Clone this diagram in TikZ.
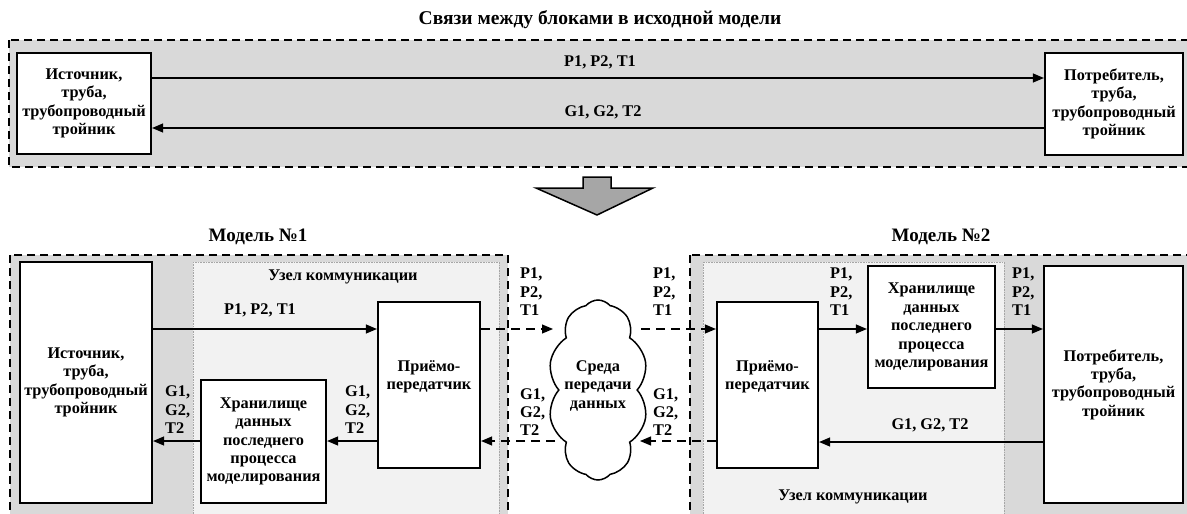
\documentclass[tikz,border=0pt]{standalone}
\usepackage{fontspec}
\setmainfont{Liberation Serif}
\usetikzlibrary{shapes.symbols,arrows.meta}
\definecolor{panelgray}{HTML}{D9D9D9}
\definecolor{nodegray}{HTML}{F2F2F2}
\definecolor{biggray}{HTML}{A6A6A6}
\begin{document}
\begin{tikzpicture}[x=1pt,y=-1pt,
  font=\bfseries\fontsize{16.3}{18.4}\selectfont,
  blk/.style={draw, line width=2.2pt, fill=white, align=center, inner sep=0pt},
  conn/.style={line width=1.2pt, -{Triangle[length=11pt,width=9pt]}},
  dconn/.style={conn, dash pattern=on 9pt off 6pt},
  panel/.style={draw, line width=1.3pt, dash pattern=on 8pt off 5pt, fill=panelgray},
  commnode/.style={draw=gray!70, line width=0.6pt, densely dotted, fill=nodegray},
  lbl/.style={align=left, inner sep=0pt},
  txt/.style={align=center, inner sep=0pt},
  ttl/.style={inner sep=0pt, font=\bfseries\fontsize{19}{22}\selectfont}]
\useasboundingbox (0,0) rectangle (1187,514);

% ---- top panel
\node[inner sep=0pt, font=\bfseries\fontsize{19.5}{22}\selectfont] (toptitle) at (600,20) {Связи между блоками в исходной модели};
\path[panel] (9,40) rectangle (1200,167);
\node[blk, minimum width=134pt, minimum height=101pt] (TL) at (84,103.5) {Источник,\\труба,\\трубопроводный\\тройник};
\node[blk, minimum width=138pt, minimum height=102pt] (TR) at (1114,104) {Потребитель,\\труба,\\трубопроводный\\тройник};
\draw[conn] (TL.east |- 0,78) -- (TR.west |- 0,78);
\draw[conn] (TR.west |- 0,128) -- (TL.east |- 0,128);
\node[inner sep=0pt] (tl1) at (600,62) {P1, P2, T1};
\node[inner sep=0pt] (tl2) at (603,112) {G1, G2, T2};

% ---- big arrow
\draw[line width=1.5pt, fill=biggray, line join=miter] (583,177) -- (611,177) -- (611,188) -- (653,188) -- (597,215) -- (536,188) -- (583,188) -- cycle;

% ---- model 1
\node[ttl] (m1) at (258,237) {Модель №1};
\path[panel] (10,255) rectangle (508,530);
\path[commnode] (193,262) rectangle (499,530);
\node[inner sep=0pt] (u1) at (343,277) {Узел коммуникации};
\node[blk, minimum width=132pt, minimum height=241pt] (BL) at (86,382.5) {Источник,\\труба,\\трубопроводный\\тройник};
\node[blk, minimum width=102pt, minimum height=166pt] (Ltr) at (429,385) {};
\node[txt] (Ltrt) at (429,377) {Приёмо-\\передатчик};
\node[blk, minimum width=125pt, minimum height=123pt] (Lst) at (263.5,441.5) {Хранилище\\данных\\последнего\\процесса\\моделирования};
\draw[conn] (BL.east |- 0,329) -- (Ltr.west |- 0,329);
\draw[conn] (Ltr.west |- 0,441) -- (Lst.east |- 0,441);
\draw[conn] (Lst.west |- 0,441) -- (BL.east |- 0,441);
\node[inner sep=0pt] (l1) at (260,310) {P1, P2, T1};
\node[lbl, anchor=west] (l2) at (345,410) {G1,\\G2,\\T2};
\node[lbl, anchor=west] (l3) at (165,410) {G1,\\G2,\\T2};

% ---- model 2
\node[ttl] (m2) at (941,237) {Модель №2};
\path[panel] (690,255) rectangle (1200,530);
\path[commnode] (703,262) rectangle (1004,530);
\node[inner sep=0pt] (u2) at (853,497) {Узел коммуникации};
\node[blk, minimum width=101pt, minimum height=166pt] (Rtr) at (767.5,385) {};
\node[txt] (Rtrt) at (767.5,377) {Приёмо-\\передатчик};
\node[blk, minimum width=127pt, minimum height=122pt] (Rst) at (931.5,327) {Хранилище\\данных\\последнего\\процесса\\моделирования};
\node[blk, minimum width=139pt, minimum height=237pt] (BR) at (1113.5,384.5) {Потребитель,\\труба,\\трубопроводный\\тройник};
\draw[conn] (Rtr.east |- 0,329) -- (Rst.west |- 0,329);
\draw[conn] (Rst.east |- 0,329) -- (BR.west |- 0,329);
\draw[conn] (BR.west |- 0,442) -- (Rtr.east |- 0,442);
\node[lbl, anchor=west] (r1) at (830,292) {P1,\\P2,\\T1};
\node[lbl, anchor=west] (r2) at (1012,292) {P1,\\P2,\\T1};
\node[inner sep=0pt] (r3) at (930,425) {G1, G2, T2};

% ---- cloud
\node[cloud, draw, line width=1.5pt, fill=white, cloud puffs=10, cloud puff arc=100, cloud ignores aspect,
      minimum width=100pt, minimum height=180pt, align=center, inner sep=0pt] (cl) at (598,390) {};
\node[txt] (clt) at (598,386) {Среда\\передачи\\данных};
\coordinate (cLin) at (553,329);
\coordinate (cRout) at (641,329);
\coordinate (cRin) at (640,441);
\coordinate (cLout) at (555,441);
\draw[dconn] (Ltr.east |- 0,329) -- (cLin);
\draw[dconn] (cRout) -- (Rtr.west |- 0,329);
\draw[dconn] (Rtr.west |- 0,441) -- (cRin);
\draw[dconn] (cLout) -- (Ltr.east |- 0,441);
\node[lbl, anchor=west] (c1) at (520,292) {P1,\\P2,\\T1};
\node[lbl, anchor=west] (c2) at (653,292) {P1,\\P2,\\T1};
\node[lbl, anchor=west] (c3) at (520,412) {G1,\\G2,\\T2};
\node[lbl, anchor=west] (c4) at (653,412) {G1,\\G2,\\T2};
\end{tikzpicture}
\end{document}
